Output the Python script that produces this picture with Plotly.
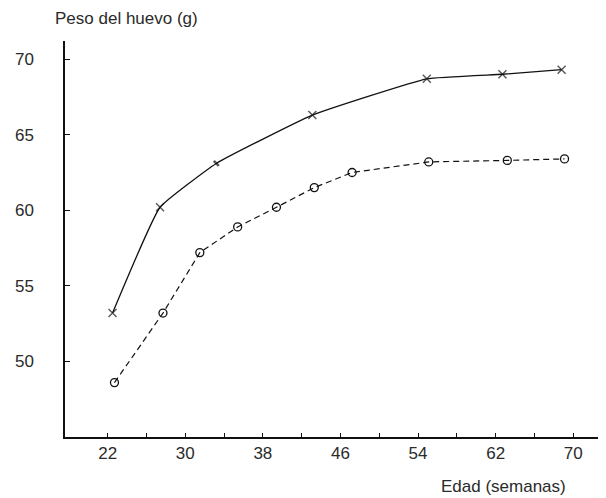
import plotly.graph_objects as go

# Data
semanas_sup = [22.5, 27.4, 33.2, 43.1, 54.9, 62.7, 68.8]
peso_sup = [53.2, 60.2, 63.1, 66.3, 68.7, 69.0, 69.3]
simbolos_sup = ["x-thin", "x-thin", "line-nw", "x-thin", "x-thin", "x-thin", "x-thin"]

semanas_inf = [22.7, 27.7, 31.5, 35.4, 39.4, 43.3, 47.2, 55.1, 63.2, 69.1]
peso_inf = [48.6, 53.2, 57.2, 58.9, 60.2, 61.5, 62.5, 63.2, 63.3, 63.4]

x_ticks = [22, 30, 38, 46, 54, 62, 70]
x_minor = [26, 34, 42, 50, 58, 66]
y_ticks = [50, 55, 60, 65, 70]

x_range = [17.6, 74.2]
y_range = [45.0, 71.2]

ink = "#111111"
txt = "#2a2a2a"
font = dict(family="Liberation Sans, Arial, sans-serif", size=17, color=txt)

fig = go.Figure()
fig.add_trace(go.Scatter(
    x=semanas_sup, y=peso_sup, mode="lines+markers",
    line=dict(color=ink, width=1.3, shape="spline", smoothing=0.35),
    marker=dict(symbol=simbolos_sup, size=[8, 8, 5, 8, 8, 8, 8], color=ink,
                line=dict(color=ink, width=[1.4, 1.4, 2.6, 1.4, 1.4, 1.4, 1.4])),
    showlegend=False, hoverinfo="x+y",
))
fig.add_trace(go.Scatter(
    x=semanas_inf, y=peso_inf, mode="lines+markers",
    line=dict(color=ink, width=1.2, dash="6px,4px"),
    marker=dict(symbol="circle-open", size=8, color=ink, line=dict(color=ink, width=1.3)),
    showlegend=False, hoverinfo="x+y",
))

tick_common = dict(tickwidth=1.2, tickcolor=ink)

fig.update_layout(
    width=606, height=498,
    margin=dict(l=57, r=0, t=33, b=69),
    paper_bgcolor="white", plot_bgcolor="white",
    font=font,
    xaxis=dict(range=x_range, tickvals=x_ticks, showgrid=False, zeroline=False,
               showline=True, linecolor=ink, linewidth=1.5,
               ticks="inside", ticklen=4, **tick_common,
               minor=dict(tickvals=x_minor, ticks="inside", ticklen=4,
                          tickwidth=1.2, tickcolor=ink, showgrid=False),
               tickfont=dict(size=17, color=txt), ticklabelstandoff=0),
    yaxis=dict(range=y_range, tickvals=y_ticks, showgrid=False, zeroline=False,
               showline=True, linecolor=ink, linewidth=1.5,
               ticks="inside", ticklen=5, **tick_common,
               tickfont=dict(size=17, color=txt), ticklabelstandoff=26),
    xaxis2=dict(range=x_range, overlaying="x", anchor="y", side="bottom",
                tickvals=x_ticks, showticklabels=False, showgrid=False, zeroline=False,
                showline=False, ticks="outside", ticklen=4, **tick_common,
                minor=dict(tickvals=x_minor, ticks="outside", ticklen=4,
                           tickwidth=1.2, tickcolor=ink, showgrid=False)),
    yaxis2=dict(range=y_range, overlaying="y", anchor="x", side="left",
                tickvals=y_ticks, showticklabels=False, showgrid=False, zeroline=False,
                showline=False, ticks="outside", ticklen=5, **tick_common),
    annotations=[
        dict(text="Peso del huevo (g)", xref="paper", yref="paper",
             x=-0.021, y=1.0, xanchor="left", yanchor="middle", yshift=23,
             showarrow=False, font=dict(size=17, color=txt)),
        dict(text="Edad (semanas)", xref="paper", yref="paper",
             x=0.682, y=0, xanchor="left", yanchor="middle", yshift=-49,
             showarrow=False, font=dict(size=17, color=txt)),
    ],
)

fig.write_html("out.html")
